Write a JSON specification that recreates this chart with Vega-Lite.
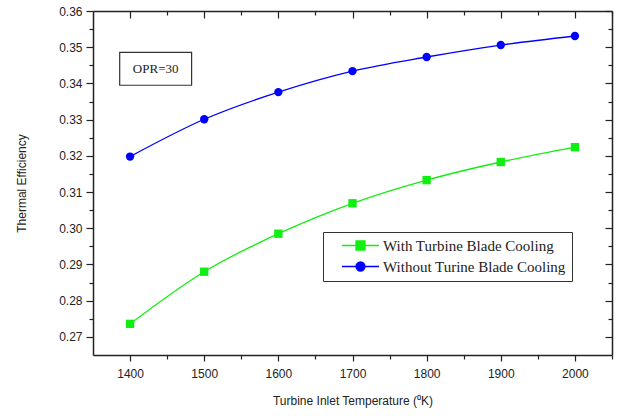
{
  "$schema": "https://vega.github.io/schema/vega-lite/v6.json",
  "width": 519,
  "height": 344,
  "autosize": {"type": "none"},
  "padding": {"left": 93, "top": 11, "right": 6, "bottom": 61},
  "background": "white",
  "config": {
    "view": {"stroke": null},
    "axis": {
      "grid": false,
      "domainColor": "#222",
      "tickColor": "#222",
      "labelColor": "#222",
      "titleColor": "#222",
      "labelFont": "Liberation Sans",
      "titleFont": "Liberation Sans",
      "labelFontSize": 12,
      "titleFontSize": 12,
      "titleFontWeight": "normal",
      "domainWidth": 1.5,
      "tickWidth": 1.2
    }
  },
  "data": {
    "values": [
      {"T": 1400, "eff": 0.2736, "series": "With Turbine Blade Cooling"},
      {"T": 1500, "eff": 0.2880, "series": "With Turbine Blade Cooling"},
      {"T": 1600, "eff": 0.2985, "series": "With Turbine Blade Cooling"},
      {"T": 1700, "eff": 0.3069, "series": "With Turbine Blade Cooling"},
      {"T": 1800, "eff": 0.3133, "series": "With Turbine Blade Cooling"},
      {"T": 1900, "eff": 0.3183, "series": "With Turbine Blade Cooling"},
      {"T": 2000, "eff": 0.3224, "series": "With Turbine Blade Cooling"},
      {"T": 1400, "eff": 0.3198, "series": "Without Turine Blade Cooling"},
      {"T": 1500, "eff": 0.3301, "series": "Without Turine Blade Cooling"},
      {"T": 1600, "eff": 0.3376, "series": "Without Turine Blade Cooling"},
      {"T": 1700, "eff": 0.3434, "series": "Without Turine Blade Cooling"},
      {"T": 1800, "eff": 0.3473, "series": "Without Turine Blade Cooling"},
      {"T": 1900, "eff": 0.3506, "series": "Without Turine Blade Cooling"},
      {"T": 2000, "eff": 0.3531, "series": "Without Turine Blade Cooling"}
    ]
  },
  "layer": [
    {
      "mark": {"type": "line", "strokeWidth": 1.3, "interpolate": "monotone"},
      "encoding": {
        "x": {
          "field": "T", "type": "quantitative",
          "scale": {"domain": [1350, 2050], "nice": false, "zero": false},
          "axis": {"orient": "bottom", "values": [1400, 1500, 1600, 1700, 1800, 1900, 2000], "format": "d", "tickSize": 6, "labelPadding": 7, "title": "Turbine Inlet Temperature (⁰K)", "titlePadding": 16}
        },
        "y": {
          "field": "eff", "type": "quantitative",
          "scale": {"domain": [0.265, 0.36], "nice": false, "zero": false},
          "axis": {"orient": "left", "values": [0.27, 0.28, 0.29, 0.3, 0.31, 0.32, 0.33, 0.34, 0.35, 0.36], "format": ".2f", "tickSize": 7, "labelPadding": 4, "title": "Thermal Efficiency", "titlePadding": 30}
        },
        "color": {
          "field": "series", "type": "nominal",
          "scale": {"domain": ["With Turbine Blade Cooling", "Without Turine Blade Cooling"], "range": ["#11ee11", "#0000ff"]},
          "legend": {
            "title": null,
            "orient": "none",
            "legendX": 230,
            "legendY": 221,
            "strokeColor": "#333",
            "fillColor": "white",
            "padding": 6,
            "labelFont": "Liberation Serif",
            "labelFontSize": 15,
            "labelLimit": 400,
            "labelColor": "#222",
            "symbolSize": 100,
            "symbolOffset": 24,
            "labelOffset": 15,
            "rowPadding": 5,
            "symbolStrokeWidth": 1.3,
            "symbolOpacity": 1,
            "symbolType": {"expr": "datum.value == 'With Turbine Blade Cooling' ? 'M-3.7,0H-0.9M0.9,0H3.7M-0.9,-0.9H0.9V0.9H-0.9Z' : 'M-3.7,0H-0.9M0.9,0H3.7M-0.9,0A0.9,0.9,0,1,0,0.9,0A0.9,0.9,0,1,0,-0.9,0Z'"}
          }
        }
      }
    },
    {
      "transform": [{"filter": "datum.series == 'With Turbine Blade Cooling'"}],
      "mark": {"type": "point", "shape": "square", "filled": true, "opacity": 1, "size": 70},
      "encoding": {
        "x": {"field": "T", "type": "quantitative", "axis": {"orient": "top", "values": [1400, 1500, 1600, 1700, 1800, 1900, 2000], "labels": false, "tickSize": -7, "title": null}},
        "y": {"field": "eff", "type": "quantitative", "axis": {"orient": "right", "values": [0.27, 0.28, 0.29, 0.3, 0.31, 0.32, 0.33, 0.34, 0.35, 0.36], "labels": false, "tickSize": -7, "title": null}},
        "color": {"field": "series", "type": "nominal"}
      }
    },
    {
      "transform": [{"filter": "datum.series == 'Without Turine Blade Cooling'"}],
      "mark": {"type": "point", "shape": "circle", "filled": true, "opacity": 1, "size": 70},
      "encoding": {
        "x": {"field": "T", "type": "quantitative", "axis": {"orient": "bottom", "values": [1450, 1550, 1650, 1750, 1850, 1950, 2050], "labels": false, "domain": false, "tickSize": 4, "title": null}},
        "y": {"field": "eff", "type": "quantitative", "axis": {"orient": "left", "values": [0.275, 0.285, 0.295, 0.305, 0.315, 0.325, 0.335, 0.345, 0.355], "labels": false, "domain": false, "tickSize": 4, "title": null}},
        "color": {"field": "series", "type": "nominal"}
      }
    },
    {
      "mark": {"type": "line", "strokeOpacity": 0},
      "encoding": {
        "x": {"field": "T", "type": "quantitative", "axis": {"orient": "top", "values": [1450, 1550, 1650, 1750, 1850, 1950, 2050], "labels": false, "domain": false, "tickSize": -4, "title": null}},
        "y": {"field": "eff", "type": "quantitative", "axis": {"orient": "right", "values": [0.275, 0.285, 0.295, 0.305, 0.315, 0.325, 0.335, 0.345, 0.355], "labels": false, "domain": false, "tickSize": -4, "title": null}}
      }
    },
    {
      "data": {"values": [{"label": "OPR=30"}]},
      "mark": {"type": "rect", "fill": "white", "stroke": "#333", "strokeWidth": 1.2},
      "encoding": {
        "x": {"datum": 1386, "type": "quantitative", "axis": null},
        "x2": {"datum": 1483},
        "y": {"datum": 0.3486, "type": "quantitative", "axis": null},
        "y2": {"datum": 0.3395}
      }
    },
    {
      "data": {"values": [{"label": "OPR=30"}]},
      "mark": {"type": "text", "font": "Liberation Serif", "fontSize": 13, "color": "#222"},
      "encoding": {
        "x": {"datum": 1434.5, "type": "quantitative", "axis": null},
        "y": {"datum": 0.3441, "type": "quantitative", "axis": null},
        "text": {"field": "label", "type": "nominal"}
      }
    }
  ],
  "resolve": {"axis": {"x": "independent", "y": "independent"}}
}
